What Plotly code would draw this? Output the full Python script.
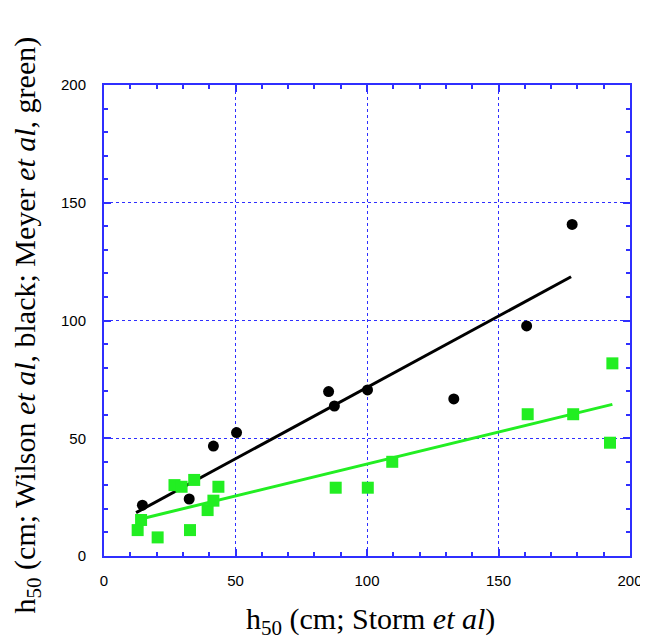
import plotly.graph_objects as go

# Wilson et al (black circles)
wilson_x = [14.6, 32.4, 41.6, 50.4, 85.4, 87.6, 100.2, 133.0, 160.7, 178.0]
wilson_y = [21.6, 24.2, 46.7, 52.4, 69.8, 63.7, 70.5, 66.7, 97.7, 140.8]
wilson_fit_x = [12.2, 177.6]
wilson_fit_y = [18.4, 118.6]

# Meyer et al (green squares)
meyer_x = [12.8, 14.1, 20.4, 26.8, 29.5, 32.7, 34.3, 39.4, 41.6, 43.5, 88.1, 100.3,
           109.6, 161.1, 178.4, 192.4, 193.3]
meyer_y = [11.0, 15.3, 7.9, 30.1, 29.4, 11.0, 32.3, 19.5, 23.5, 29.4, 29.0, 29.0,
           40.0, 60.2, 60.2, 48.1, 81.8]
meyer_fit_x = [12.4, 193.3]
meyer_fit_y = [15.3, 64.4]

tick_vals = [0, 50, 100, 150, 200]
tick_text = ["0", "50", "100", "150", "200"]

x_title = "h<sub>50</sub> (cm; Storm <i>et al</i>)"
y_title = "h<sub>50</sub> (cm; Wilson <i>et al</i>, black; Meyer <i>et al</i>, green)"

BLUE = "#2f2fff"
GREEN = "#22ee22"

fig = go.Figure()
fig.add_trace(go.Scatter(x=wilson_fit_x, y=wilson_fit_y, mode="lines",
                         line=dict(color="black", width=3), showlegend=False))
fig.add_trace(go.Scatter(x=meyer_fit_x, y=meyer_fit_y, mode="lines",
                         line=dict(color=GREEN, width=3), showlegend=False))
fig.add_trace(go.Scatter(x=wilson_x, y=wilson_y, mode="markers",
                         marker=dict(color="black", size=11, symbol="circle"),
                         showlegend=False))
fig.add_trace(go.Scatter(x=meyer_x, y=meyer_y, mode="markers",
                         marker=dict(color=GREEN, size=12, symbol="square"),
                         showlegend=False))

axis_common = dict(
    showline=True, linecolor=BLUE, linewidth=2, mirror="ticks",
    ticks="inside", ticklen=7, tickwidth=2, tickcolor=BLUE,
    tickvals=tick_vals, ticktext=tick_text,
    minor=dict(ticks="inside", ticklen=4, tickwidth=2, tickcolor=BLUE, dtick=10,
               showgrid=False),
    showgrid=True, gridcolor=BLUE, griddash="dot", gridwidth=1,
    zeroline=False, automargin=False,
    tickfont=dict(family="Liberation Sans, Arial", size=15, color="black"),
    range=[0, 200],
)

fig.update_xaxes(**axis_common, ticklabelstandoff=10)
fig.update_yaxes(**axis_common, ticklabelstandoff=13)

title_font = dict(family="Liberation Serif, Times New Roman", size=30, color="black")
fig.add_annotation(text=x_title, xref="paper", yref="paper", x=0.506, y=-0.138,
                   xanchor="center", yanchor="middle", showarrow=False, font=title_font)
fig.add_annotation(text=y_title, xref="paper", yref="paper", x=-0.146, y=0.490,
                   xanchor="center", yanchor="middle", textangle=-90,
                   showarrow=False, font=title_font)

fig.update_layout(
    width=640, height=632,
    margin=dict(l=96, r=18, t=77, b=84),
    plot_bgcolor="white", paper_bgcolor="white",
)

fig.write_html("out.html")
